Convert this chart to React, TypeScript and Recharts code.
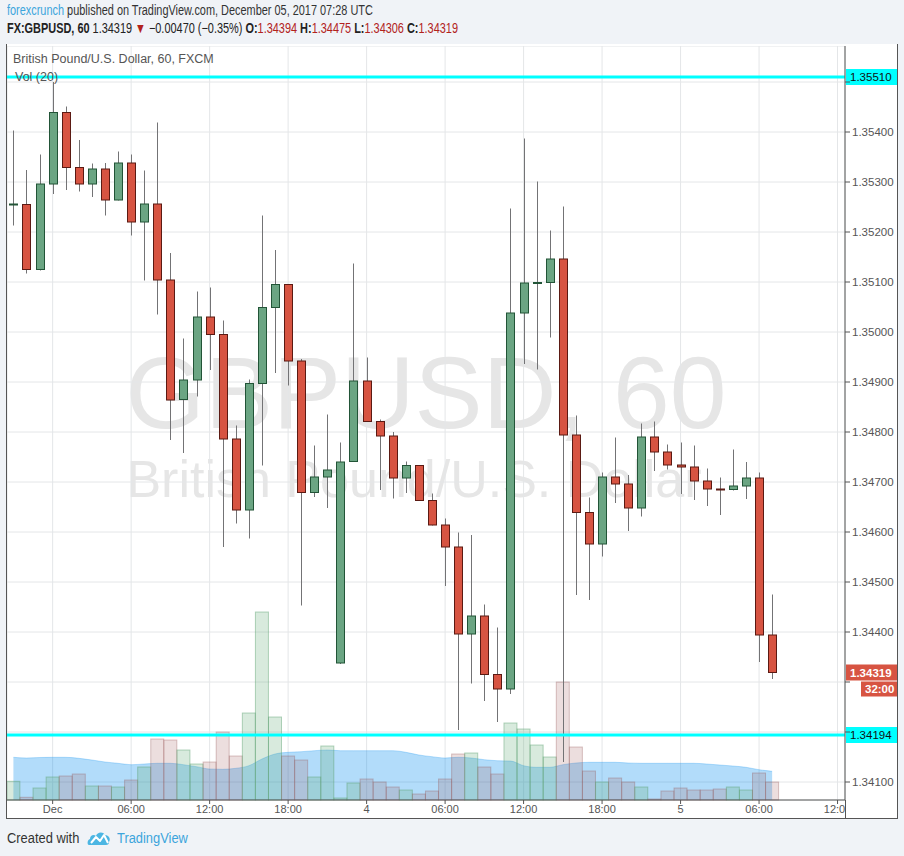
import React from 'react';
import { ComposedChart, Bar, Area, XAxis, YAxis, CartesianGrid, ReferenceLine } from 'recharts';

// hourly GBPUSD candles, Nov 30 21:00 -> Dec 5 07:00 (weekend skipped)
const opens = [
  1.35255, 1.35255, 1.35125, 1.35296, 1.35439, 1.35329, 1.35296, 1.35326, 1.35264, 1.35338,
  1.35220, 1.35256, 1.35104, 1.34865, 1.34904, 1.35030, 1.34995, 1.34786, 1.34644, 1.34897,
  1.35049, 1.35095, 1.34942, 1.34679, 1.34710, 1.34338, 1.34741, 1.34902, 1.34821, 1.34792,
  1.34708, 1.34733, 1.34663, 1.34614, 1.34570, 1.34396, 1.34432, 1.34315, 1.34286, 1.35038,
  1.35098, 1.35099, 1.35146, 1.34794, 1.34639, 1.34576, 1.34710, 1.34696, 1.34648, 1.34790,
  1.34760, 1.34734, 1.34730, 1.34702, 1.34686, 1.34685, 1.34692, 1.34708, 1.34394,
];
const highs = [
  1.35403, 1.35324, 1.35355, 1.35500, 1.35451, 1.35384, 1.35337, 1.35338, 1.35361, 1.35355,
  1.35323, 1.35419, 1.35158, 1.34987, 1.35081, 1.35089, 1.35023, 1.34813, 1.34905, 1.35233,
  1.35164, 1.35096, 1.34946, 1.34773, 1.34835, 1.34779, 1.35137, 1.34949, 1.34825, 1.34800,
  1.34741, 1.34734, 1.34677, 1.34627, 1.34599, 1.34594, 1.34455, 1.34409, 1.35247, 1.35387,
  1.35301, 1.35203, 1.35251, 1.34833, 1.34669, 1.34719, 1.34789, 1.34714, 1.34817, 1.34821,
  1.34775, 1.34779, 1.34773, 1.34727, 1.34709, 1.34765, 1.34740, 1.34719, 1.34475,
];
const lows = [
  1.35213, 1.35117, 1.35123, 1.35276, 1.35284, 1.35281, 1.35270, 1.35233, 1.35263, 1.35193,
  1.35103, 1.35035, 1.34784, 1.34758, 1.34871, 1.34924, 1.34570, 1.34617, 1.34587, 1.34733,
  1.34918, 1.34893, 1.34453, 1.34670, 1.34648, 1.34336, 1.34740, 1.34820, 1.34684, 1.34667,
  1.34678, 1.34662, 1.34613, 1.34492, 1.34204, 1.34297, 1.34262, 1.34220, 1.34276, 1.34936,
  1.34925, 1.34989, 1.34140, 1.34474, 1.34464, 1.34551, 1.34658, 1.34602, 1.34631, 1.34722,
  1.34725, 1.34676, 1.34664, 1.34652, 1.34634, 1.34683, 1.34666, 1.34340, 1.34306,
];
const closes = [
  1.35256, 1.35125, 1.35296, 1.35439, 1.35329, 1.35296, 1.35326, 1.35264, 1.35338, 1.35220,
  1.35256, 1.35104, 1.34864, 1.34904, 1.35030, 1.34995, 1.34786, 1.34644, 1.34897, 1.35049,
  1.35095, 1.34942, 1.34679, 1.34710, 1.34724, 1.34740, 1.34902, 1.34821, 1.34792, 1.34708,
  1.34733, 1.34663, 1.34614, 1.34570, 1.34396, 1.34432, 1.34315, 1.34286, 1.35038, 1.35098,
  1.35099, 1.35146, 1.34794, 1.34639, 1.34576, 1.34710, 1.34696, 1.34648, 1.34790, 1.34760,
  1.34734, 1.34730, 1.34702, 1.34686, 1.34684, 1.34692, 1.34708, 1.34394, 1.34319,
];
const volumes = [
  18.7, 2.7, 12, 23, 24, 26, 14, 14, 13, 20,
  33, 61, 60, 50, 36, 38, 68, 44, 87, 188,
  83, 44, 40, 23, 54, 2, 17, 21, 18, 13,
  10, 6, 9, 21, 46, 47, 33, 26, 77, 71,
  55, 43, 118, 53, 29, 18, 22, 18, 13, 1,
  9, 12, 10, 10, 11, 13, 10, 27, 18,
];
const volumeMa = [
  42.7, 42, 42.5, 42.7, 42.7, 41.7, 40, 38, 36.7, 35.3,
  36, 36.7, 36.7, 35.3, 33.3, 31, 30.7, 31.7, 34.3, 41,
  46, 47.7, 48.3, 49.3, 50, 49.3, 49.3, 49.3, 49.3, 49.3,
  47.7, 45, 43.3, 42, 42.7, 42, 40.3, 39.3, 39, 34.3,
  32.7, 32.7, 35.3, 37, 37.7, 37.7, 37.7, 37, 36.7, 36.7,
  36.7, 36.7, 36.7, 36, 35, 34, 32.7, 30.3, 28.7,
];

const timeTicks = [3, 9, 15, 21, 27, 33, 39, 45, 51, 57, 63];
const timeLabels = ['Dec', '06:00', '12:00', '18:00', '4', '06:00', '12:00', '18:00', '5', '06:00', '12:00'];
const priceTicks = [1.341, 1.342, 1.343, 1.344, 1.345, 1.346, 1.347, 1.348, 1.349, 1.35, 1.351, 1.352, 1.353, 1.354, 1.355];
const coveredTicks = [1.342, 1.343, 1.355]; // sit under the price tags
const levels = [1.3551, 1.34194];
const lastPrice = 1.34319;

const SANS = "'Liberation Sans', Arial, sans-serif";
const RED = '#b2221c';
const X_DOMAIN = [-0.49, 63.57];

function Candle(props: any) {
  const { x, y, width, height, payload } = props;
  if (!payload) return null;
  const { open, close, high, low } = payload;
  const top = Math.min(y, y + height);
  const h = Math.abs(height);
  const k = h / (high - low);
  const cx = Math.round(x + width / 2) + 0.5;
  const yO = top + (high - open) * k;
  const yC = top + (high - close) * k;
  const up = close >= open;
  const bTop = Math.min(yO, yC);
  const bH = Math.max(Math.abs(yO - yC), 1);
  return (
    <g>
      <line x1={cx} x2={cx} y1={top} y2={top + h} stroke="#737375" strokeWidth={1} />
      <rect x={cx - 4} y={bTop} width={8} height={bH} fill={up ? '#6ba583' : '#d75442'} stroke={up ? '#225437' : '#5b1a13'} strokeWidth={1} />
    </g>
  );
}

function VolBar(props: any) {
  const { x, y, width, height, payload } = props;
  if (!payload) return null;
  const up = payload.close >= payload.open;
  return (
    <rect x={x} y={y} width={width} height={Math.max(height, 0)}
      fill={up ? 'rgba(100,170,120,0.25)' : 'rgba(160,90,90,0.2)'}
      stroke={up ? 'rgba(90,160,110,0.45)' : 'rgba(150,90,90,0.35)'} strokeWidth={1} />
  );
}

function PriceTick(props: any) {
  const { x, y, payload } = props;
  if (coveredTicks.some((t) => Math.abs(t - payload.value) < 1e-7)) return <g />;
  return (
    <text x={x} y={y} dy={4} fill="#555" fontSize={11.5} fontFamily={SANS} textAnchor="start">
      {Number(payload.value).toFixed(5)}
    </text>
  );
}

function PriceTag(props: any) {
  const { viewBox, text, bg, color, sub, bold } = props;
  if (!viewBox) return null;
  const left = viewBox.x + viewBox.width + 1;
  const cy = viewBox.y;
  return (
    <g>
      <rect x={left} y={cy - 8} width={51} height={16} fill={bg} />
      <text x={left + 4} y={cy + 4} fill={color} fontSize={11.5} fontWeight={bold ? 'bold' : 'normal'} fontFamily={SANS}>{text}</text>
      {sub && <rect x={left + 15} y={cy + 9} width={36} height={15} fill={bg} />}
      {sub && <text x={left + 19} y={cy + 20.5} fill={color} fontSize={11.5} fontWeight="bold" fontFamily={SANS}>{sub}</text>}
    </g>
  );
}

const narrow: React.CSSProperties = {
  position: 'absolute',
  fontFamily: SANS,
  fontSize: 14,
  whiteSpace: 'nowrap',
  transform: 'scaleX(0.78)',
  transformOrigin: '0 0',
};

export default function App() {
  const rows = opens.map((o, i) => ({
    i,
    open: o,
    high: highs[i],
    low: lows[i],
    close: closes[i],
    range: [lows[i], highs[i]],
    volume: volumes[i],
    volMa: volumeMa[i],
  }));

  return (
    <div style={{ position: 'absolute', left: 0, top: 0, width: 904, height: 856, background: '#f0f3f7', overflow: 'hidden', fontFamily: SANS }}>
      <div style={{ ...narrow, left: 7, top: 2, color: '#333' }}>
        <span style={{ color: '#3ca5dc' }}>forexcrunch</span> published on TradingView.com, December 05, 2017 07:28 UTC
      </div>
      <div style={{ ...narrow, left: 7, top: 20, color: '#222' }}>
        <b>FX:GBPUSD, 60</b> 1.34319 <span style={{ color: RED }}>▼</span> −0.00470 (−0.35%) <b>O:</b><span style={{ color: RED }}>1.34394</span> <b>H:</b><span style={{ color: RED }}>1.34475</span> <b>L:</b><span style={{ color: RED }}>1.34306</span> <b>C:</b><span style={{ color: RED }}>1.34319</span>
      </div>

      {/* chart panel */}
      <div style={{ position: 'absolute', left: 6, top: 44, width: 890, height: 774, background: '#fff', borderLeft: '1px solid #555', borderRight: '1px solid #555', borderBottom: '1px solid #555' }} />

      {/* watermark */}
      <div style={{ position: 'absolute', left: 7, top: 342, width: 838, textAlign: 'center', fontSize: 102, lineHeight: '102px', color: '#e6e6e6', whiteSpace: 'nowrap' }}>GBPUSD, 60</div>
      <div style={{ position: 'absolute', left: 7, top: 453, width: 814, textAlign: 'center', fontSize: 52, lineHeight: '52px', color: '#e6e6e6', whiteSpace: 'nowrap' }}>British Pound/U.S. Dollar</div>

      <div style={{ position: 'absolute', left: 7, top: 46 }}>
        <ComposedChart width={890} height={773} data={rows} margin={{ top: 0, right: 0, bottom: 0, left: 0 }}>
          <CartesianGrid stroke="#e4e6e8" />
          <XAxis dataKey="i" type="number" domain={X_DOMAIN} allowDataOverflow ticks={timeTicks} interval={0}
            tickFormatter={(v: number) => timeLabels[timeTicks.indexOf(v)]}
            height={19} tickSize={4} tickMargin={1}
            tick={{ fill: '#555', fontSize: 11, fontFamily: SANS }}
            axisLine={{ stroke: '#555' }} tickLine={{ stroke: '#555' }} />
          <XAxis xAxisId="vol" dataKey="i" type="number" domain={X_DOMAIN} allowDataOverflow ticks={timeTicks} hide />
          <YAxis orientation="right" domain={[1.34064, 1.35572]} allowDataOverflow ticks={priceTicks} interval={0}
            width={52} tickSize={5} tickMargin={2}
            tick={(p: any) => <PriceTick {...p} />}
            axisLine={{ stroke: '#555' }} tickLine={{ stroke: '#555' }} />
          <YAxis yAxisId="vol" hide domain={[0, 754]} />
          <Bar xAxisId="vol" yAxisId="vol" dataKey="volume" barSize={13} shape={(p: any) => <VolBar {...p} />} isAnimationActive={false} />
          <Area xAxisId="vol" yAxisId="vol" dataKey="volMa" type="monotone" fill="rgba(0,140,240,0.3)" fillOpacity={1} stroke="rgba(0,140,240,0.25)" strokeWidth={1} dot={false} activeDot={false} isAnimationActive={false} />
          {levels.map((lv) => (
            <ReferenceLine key={lv} y={lv} stroke="#00ffff" strokeWidth={3}
              label={<PriceTag text={lv.toFixed(5)} bg="#00ffff" color="#111" />} />
          ))}
          <ReferenceLine y={lastPrice} stroke="none"
            label={<PriceTag text={lastPrice.toFixed(5)} bg="#d75442" color="#fff" sub="32:00" bold />} />
          <Bar dataKey="range" barSize={9} shape={(p: any) => <Candle {...p} />} isAnimationActive={false} />
        </ComposedChart>
      </div>

      {/* hides the part of the last time label under the price scale */}
      <div style={{ position: 'absolute', left: 846, top: 801, width: 50, height: 17, background: '#fff' }} />
      <div style={{ position: 'absolute', left: 845, top: 800, width: 1, height: 18, background: '#555' }} />

      <div style={{ position: 'absolute', left: 13, top: 52, fontSize: 12.5, color: '#555', whiteSpace: 'nowrap' }}>British Pound/U.S. Dollar, 60, FXCM</div>
      <div style={{ position: 'absolute', left: 15, top: 70, fontSize: 12.5, color: '#555', whiteSpace: 'nowrap' }}>Vol (20)</div>

      {/* footer */}
      <div style={{ ...narrow, left: 7, top: 830, color: '#333', transform: 'scaleX(0.92)' }}>Created with</div>
      <svg style={{ position: 'absolute', left: 87, top: 829 }} width={24} height={18} viewBox="0 0 24 18">
        <path d="M2 16 C0 16 0 11 3 10 C3 6 7 5 9 7 C10 3 16 2 18 6 C22 6 24 10 22 13 C22 15 21 16 19 16 Z" fill="#4cb6e3" />
        <path d="M4 14 L9 8 L13 12 L17 6 L21 14" fill="none" stroke="#fff" strokeWidth={2} strokeLinejoin="round" />
      </svg>
      <div style={{ ...narrow, left: 117, top: 830, color: '#3ca5dc', transform: 'scaleX(0.92)' }}>TradingView</div>
    </div>
  );
}
